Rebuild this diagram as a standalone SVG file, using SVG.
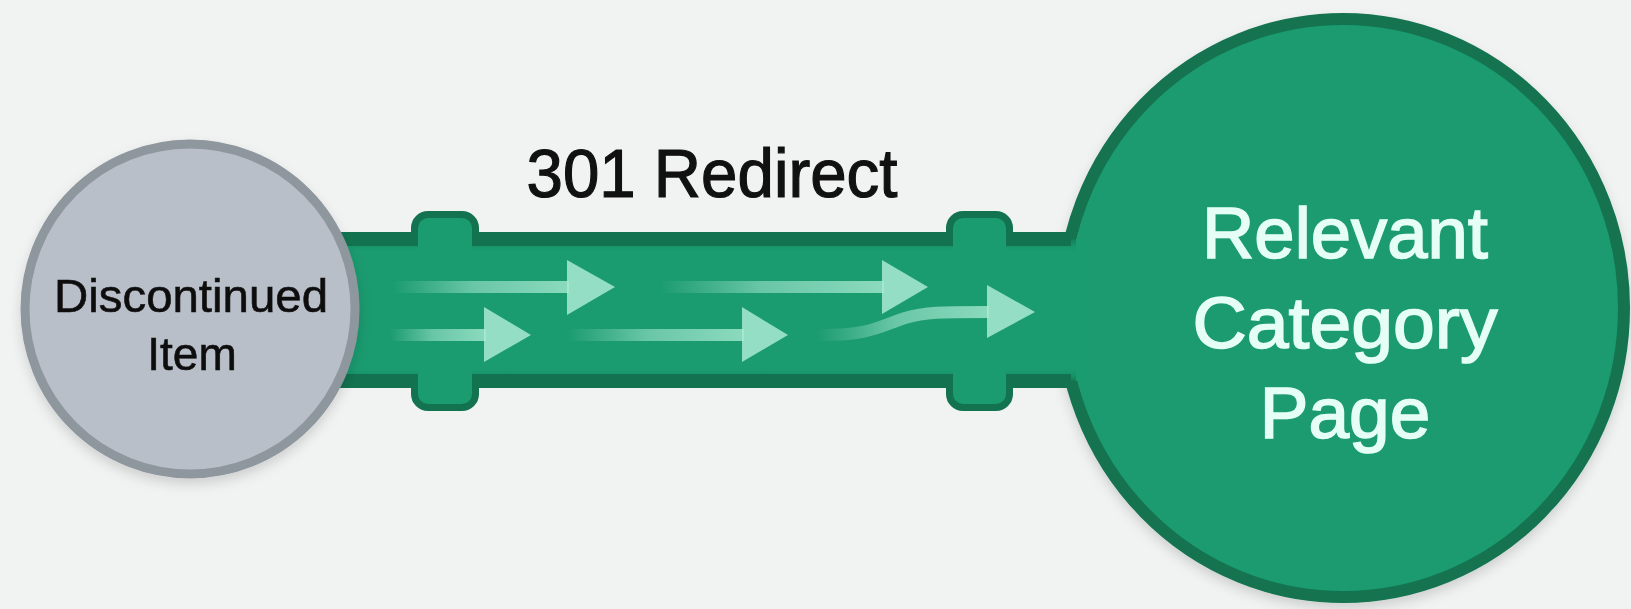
<svg xmlns="http://www.w3.org/2000/svg" width="1631" height="609" viewBox="0 0 1631 609">
  <defs>
    <filter id="shadow" x="-20%" y="-20%" width="140%" height="140%">
      <feDropShadow dx="0" dy="6" stdDeviation="6" flood-color="#000" flood-opacity="0.14"/>
    </filter>
    <linearGradient id="tailFade" x1="0" y1="0" x2="1" y2="0">
      <stop offset="0" stop-color="#a8ead2" stop-opacity="0"/>
      <stop offset="0.45" stop-color="#a8ead2" stop-opacity="0.55"/>
      <stop offset="1" stop-color="#a8ead2" stop-opacity="0.8"/>
    </linearGradient>
    <linearGradient id="bandTop" x1="0" y1="0" x2="0" y2="1">
      <stop offset="0" stop-color="#137a54"/>
      <stop offset="1" stop-color="#1a9a6e" stop-opacity="0"/>
    </linearGradient>
    <linearGradient id="bandBot" x1="0" y1="1" x2="0" y2="0">
      <stop offset="0" stop-color="#137a54"/>
      <stop offset="1" stop-color="#1a9a6e" stop-opacity="0"/>
    </linearGradient>
  </defs>
  <style>
    .green { fill: #1b9b70; }
    .edge { stroke: #137350; stroke-width: 14; fill: none; }
    .flange-out { fill: none; stroke: #137350; stroke-width: 14; }
    .flange-in { fill: #1b9b70; }
    .head { fill: #a8ead2; fill-opacity: 0.85; }
    .tail { fill: url(#tailFade); }
    .label { font-family: "Liberation Sans", Arial, sans-serif; }
  </style>

  <rect x="0" y="0" width="1631" height="609" fill="#f1f2f2"/>

  <g id="node-category" filter="url(#shadow)">
    <ellipse cx="1343" cy="308" rx="281" ry="289" class="green" stroke="#137350" stroke-width="12"/>
    <g class="label" fill="#e6fff6" stroke="#e6fff6" stroke-width="1.6" font-size="73" text-anchor="middle">
      <text x="1345" y="258" textLength="286" lengthAdjust="spacingAndGlyphs">Relevant</text>
      <text x="1345" y="348" textLength="305" lengthAdjust="spacingAndGlyphs">Category</text>
      <text x="1345" y="438">Page</text>
    </g>
  </g>

  <g id="connectors">
    <!-- flange outlines -->
    <rect x="418" y="218" width="54" height="186" rx="10" class="flange-out"/>
    <rect x="953" y="218" width="53" height="186" rx="10" class="flange-out"/>
    <!-- pipe body -->
    <rect x="330" y="239" width="760" height="142" class="green"/>
    <!-- flange fills -->
    <rect x="418" y="218" width="54" height="186" rx="10" class="flange-in"/>
    <rect x="953" y="218" width="53" height="186" rx="10" class="flange-in"/>
    <!-- inner shading bands -->
    <rect x="330" y="239" width="88" height="13" fill="url(#bandTop)"/>
    <rect x="472" y="239" width="481" height="13" fill="url(#bandTop)"/>
    <rect x="1006" y="239" width="70" height="13" fill="url(#bandTop)"/>
    <rect x="330" y="368" width="88" height="13" fill="url(#bandBot)"/>
    <rect x="472" y="368" width="481" height="13" fill="url(#bandBot)"/>
    <rect x="1006" y="368" width="70" height="13" fill="url(#bandBot)"/>
    <!-- pipe edges -->
    <path class="edge" d="M330 239 H418 M472 239 H953 M1006 239 H1071 M330 381 H418 M472 381 H953 M1006 381 H1071"/>

    <!-- flow arrows, upper row -->
    <rect x="393" y="281" width="176" height="12" class="tail"/>
    <polygon points="567,260 615,287 567,315" class="head"/>
    <rect x="660" y="281" width="224" height="12" class="tail"/>
    <polygon points="882,260 928,287 882,314" class="head"/>
    <!-- flow arrows, lower row -->
    <rect x="390" y="329" width="96" height="12" class="tail"/>
    <polygon points="484,307 531,335 484,362" class="head"/>
    <rect x="567" y="329" width="177" height="12" class="tail"/>
    <polygon points="742,307 788,335 742,362" class="head"/>
    <path d="M817 335 C870 336 880 326 905 318 C925 312 940 312 989 312" fill="none" stroke="url(#tailFade)" stroke-width="12"/>
    <polygon points="987,285 1035,312 987,338" class="head"/>

    <text x="712" y="197" class="label" font-size="68" fill="#111111" stroke="#111111" stroke-width="1.2" text-anchor="middle" textLength="371" lengthAdjust="spacingAndGlyphs">301 Redirect</text>
  </g>

  <g id="node-discontinued" filter="url(#shadow)">
    <circle cx="190" cy="309" r="165" fill="#b9bfc9" stroke="#8e969e" stroke-width="9"/>
    <g class="label" fill="#111111" stroke="#111111" stroke-width="0.6" font-size="46" text-anchor="middle">
      <text x="191" y="312" textLength="274" lengthAdjust="spacingAndGlyphs">Discontinued</text>
      <text x="192" y="370">Item</text>
    </g>
  </g>
</svg>
